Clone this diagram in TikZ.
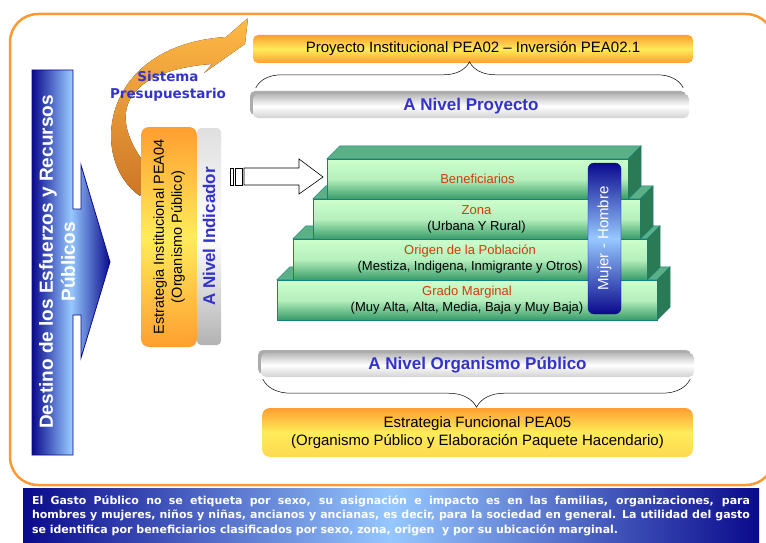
\documentclass[tikz,border=0pt]{standalone}
\usepackage{fontspec}
\setmainfont{Liberation Sans}
\newfontfamily\verdana{DejaVu Sans}
\usetikzlibrary{decorations.pathreplacing,shadows}

\definecolor{frameorange}{RGB}{255,153,51}
\definecolor{barorange}{RGB}{255,158,48}
\definecolor{baryellow}{RGB}{255,236,90}
\definecolor{navyblue}{RGB}{10,10,140}
\definecolor{skyblue}{RGB}{150,200,255}
\definecolor{labelblue}{RGB}{51,51,204}
\definecolor{tagred}{RGB}{210,60,10}
\definecolor{leafgreen}{RGB}{204,255,204}
\definecolor{deepgreen}{RGB}{55,155,105}
\definecolor{topgreen}{RGB}{92,176,136}
\definecolor{sidegreen}{RGB}{42,122,86}
\definecolor{edgeteal}{RGB}{20,130,120}
\definecolor{arcdark}{RGB}{205,118,38}
\definecolor{arclight}{RGB}{255,185,70}

\begin{document}
\begin{tikzpicture}[x=1pt, y=-1pt,
    orangebar/.style={rounded corners=5pt, top color=barorange, bottom color=barorange,
                      middle color=baryellow, align=center, inner sep=0pt},
    graybar/.style={rounded corners=5pt, top color=gray!55, bottom color=gray!35,
                    middle color=white, text=labelblue, inner sep=0pt,
                    font=\bfseries\fontsize{17}{20}\selectfont,
                    drop shadow={shadow xshift=-3pt, shadow yshift=3pt, fill=gray!65, opacity=1}},
    layer/.style={draw=edgeteal, top color=leafgreen, bottom color=deepgreen,
                  middle color=leafgreen!85!deepgreen, align=center, inner sep=0pt,
                  font=\fontsize{13}{16}\selectfont},
    topface/.style={fill=topgreen, draw=edgeteal},
    sideface/.style={fill=sidegreen, draw=edgeteal},
    brace/.style={decorate, line width=0.5pt},
    blockarrow/.style={draw, fill=white, line width=0.6pt}
  ]
    \useasboundingbox (0,0) rectangle (766,543);

    % frame and note
    \draw[frameorange, line width=2.5pt, rounded corners=28pt] (10,14) rectangle (774,485);
    \node[left color=navyblue, right color=navyblue, middle color=skyblue,
          minimum width=736pt, minimum height=55pt, text width=718pt, inner sep=0pt,
          align=justify, text=white, font=\verdana\bfseries\fontsize{11}{14.5}\selectfont]
          (nota) at (391,515.5)
          {El Gasto Público no se etiqueta por sexo, su asignación e impacto es en las familias, organizaciones, para\linebreak
           hombres y mujeres, niños y niñas, ancianos y ancianas, es decir, para la sociedad en general. La utilidad del gasto\linebreak
           se identifica por beneficiarios clasificados por sexo, zona, origen\ \ y por su ubicación marginal.};

    % left arrow
    \draw[navyblue, line width=0.8pt, left color=navyblue, right color=navyblue, middle color=skyblue]
      (32,70) -- (73,70) -- (73,209) -- (81,209) -- (81,165) -- (110,262) -- (81,358)
      -- (81,315) -- (73,315) -- (73,455) -- (32,455) -- cycle;
    \node[rotate=90, text=white, align=center, font=\bfseries\fontsize{19}{22}\selectfont]
      (destino) at (57,262) {Destino de los Esfuerzos y Recursos\\Públicos};

    % curved arrow
    \fill[top color=arclight, bottom color=arcdark]
      (140,196) .. controls (88,160) and (100,45) .. (226,37) -- (248,18) -- (245,44)
      -- (204,73) -- (212,64) .. controls (130,70) and (100,110) .. (150,170) -- cycle;
    \node[text=labelblue, align=center, font=\verdana\bfseries\fontsize{13.5}{17}\selectfont]
      (sistema) at (168,86) {Sistema\\Presupuestario};

    % left column
    \node[rotate=90, rounded corners=8pt, minimum width=220pt, minimum height=56pt,
          top color=barorange, bottom color=barorange, middle color=baryellow,
          align=center, inner sep=0pt, font=\fontsize{14.5}{18}\selectfont]
          (inst) at (169,237) {Estrategia Institucional PEA04\\(Organismo Público)};
    \node[rotate=90, rounded corners=4pt, minimum width=217pt, minimum height=24pt,
          top color=gray!25, bottom color=gray!60, middle color=white, text=labelblue,
          inner sep=0pt, font=\bfseries\fontsize{17}{20}\selectfont]
          (indicador) at (209,236.5) {A Nivel Indicador};

    % stack
    \node[layer, minimum width=380pt, minimum height=40pt] (grado) at (467,300)
      {\textcolor{tagred}{Grado Marginal}\\(Muy Alta, Alta, Media, Baja y Muy Baja)};
    \draw[topface] (grado.north west) -- ++(13,-13) -- ([shift={(13,-13)}]grado.north east) -- (grado.north east) -- cycle;
    \draw[sideface] (grado.north east) -- ++(13,-13) -- ([shift={(13,-13)}]grado.south east) -- (grado.south east) -- cycle;
    \node[layer, minimum width=354pt, minimum height=41pt] (origen) at (470,259.5)
      {\textcolor{tagred}{Origen de la Población}\\(Mestiza, Indigena, Inmigrante y Otros)};
    \draw[topface] (origen.north west) -- ++(13,-13) -- ([shift={(13,-13)}]origen.north east) -- (origen.north east) -- cycle;
    \draw[sideface] (origen.north east) -- ++(13,-13) -- ([shift={(13,-13)}]origen.south east) -- (origen.south east) -- cycle;
    \node[layer, minimum width=327pt, minimum height=40pt] (zona) at (476.5,219)
      {\textcolor{tagred}{Zona}\\(Urbana Y Rural)};
    \draw[topface] (zona.north west) -- ++(13,-13) -- ([shift={(13,-13)}]zona.north east) -- (zona.north east) -- cycle;
    \draw[sideface] (zona.north east) -- ++(13,-13) -- ([shift={(13,-13)}]zona.south east) -- (zona.south east) -- cycle;
    \node[layer, minimum width=301pt, minimum height=40pt] (benef) at (477.5,179)
      {\textcolor{tagred}{Beneficiarios}};
    \draw[topface] (benef.north west) -- ++(13,-13) -- ([shift={(13,-13)}]benef.north east) -- (benef.north east) -- cycle;
    \draw[sideface] (benef.north east) -- ++(13,-13) -- ([shift={(13,-13)}]benef.south east) -- (benef.south east) -- cycle;
    \node[rotate=90, rounded corners=6pt, draw=navyblue, minimum width=151pt, minimum height=33pt,
          top color=navyblue, bottom color=navyblue, middle color=skyblue, text=white,
          inner sep=0pt, font=\fontsize{15}{17}\selectfont]
          (sexo) at (604.5,238.5) {Mujer - Hombre};

    % arrow into the stack
    \draw[blockarrow] (244,168) -- (299,168) -- (299,159) -- (323,177) -- (299,194)
      -- (299,185) -- (244,185) -- cycle;
    \draw[blockarrow] (230,168) rectangle (233,185);
    \draw[blockarrow] (235,168) rectangle (242,185);

    % project level
    \node[orangebar, minimum width=440pt, minimum height=28pt, font=\fontsize{15}{17}\selectfont]
      (proyecto) at (473,49) {Proyecto Institucional PEA02 – Inversión PEA02.1};
    \node[graybar, minimum width=436pt, minimum height=24pt] (nivelproy) at (471,106) {A Nivel Proyecto};
    \draw[brace, decoration={brace, amplitude=26pt}]
      ([shift={(3,-6)}]nivelproy.north west) -- ([shift={(-6,-6)}]nivelproy.north east);

    % agency level
    \node[graybar, minimum width=433pt, minimum height=24pt] (nivelorg) at (477.5,365) {A Nivel Organismo Público};
    \draw[brace, decoration={brace, amplitude=28pt}]
      ([shift={(-4,2)}]nivelorg.south east) -- ([shift={(2,2)}]nivelorg.south west);
    \node[orangebar, rounded corners=8pt, minimum width=431pt, minimum height=49pt,
          top color=barorange, bottom color=baryellow!75!barorange, middle color=baryellow,
          font=\fontsize{15}{17.5}\selectfont]
      (funcional) at (477.5,432.5) {Estrategia Funcional PEA05\\(Organismo Público y Elaboración Paquete Hacendario)};
\end{tikzpicture}
\end{document}
